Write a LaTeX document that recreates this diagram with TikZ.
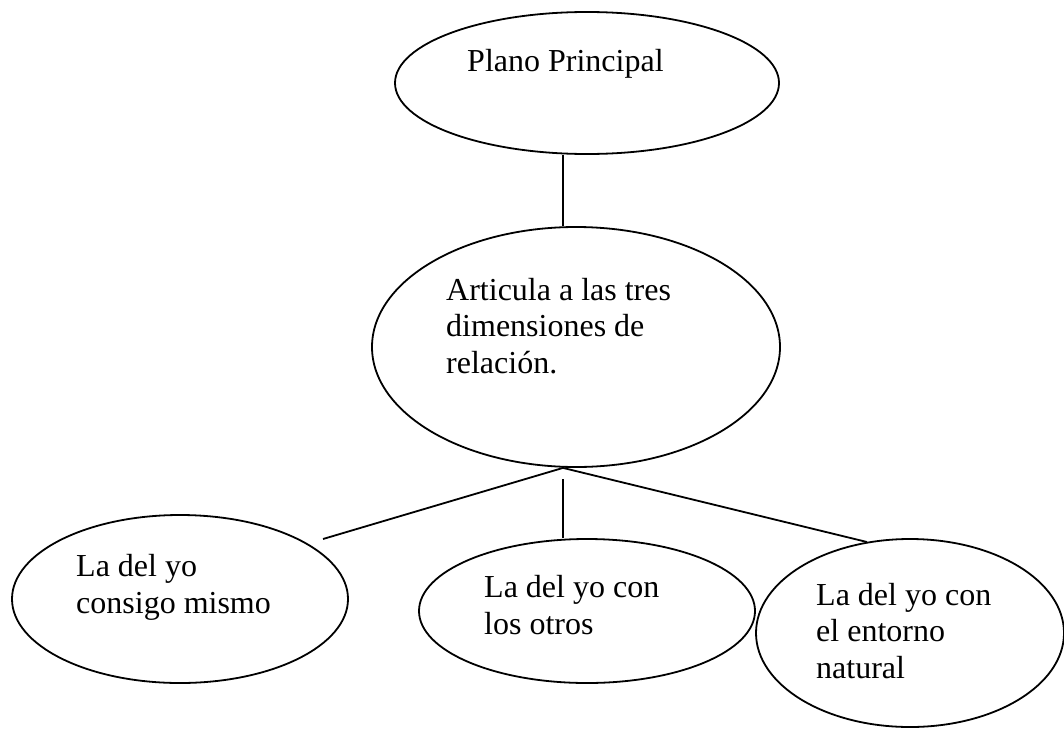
\documentclass[tikz,border=0pt]{standalone}
\usepackage{fontspec}
\setmainfont{Liberation Serif}
\usetikzlibrary{shapes.geometric,calc}
\begin{document}
\begin{tikzpicture}[x=1pt,y=-1pt,
  bubble/.style={ellipse,draw=black,line width=1.8pt,inner sep=0pt,fill=none},
  label/.style={anchor=base west,align=left,inner sep=0pt,font=\fontsize{32}{36.5}\selectfont},
  link/.style={draw=black,line width=1.8pt}]
\useasboundingbox[fill=white] (0,0) rectangle (1064,728);
% ellipses
\node[bubble,minimum width=384pt,minimum height=142pt] (e1) at (587,83) {};
\node[bubble,minimum width=408pt,minimum height=240pt] (e2) at (576,347) {};
\node[bubble,minimum width=336pt,minimum height=168pt] (e3) at (180,599) {};
\node[bubble,minimum width=336pt,minimum height=144pt] (e4) at (587,611) {};
\node[bubble,minimum width=308pt,minimum height=188pt] (e5) at (910,633) {};
% texts (base anchor = baseline of the last line)
\node[label] (t1) at (467,71) {Plano Principal};
\node[label] (t2) at (446,373) {Articula a las tres\\dimensiones de\\relación.};
\node[label] (t3) at (76,613) {La del yo\\consigo mismo};
\node[label] (t4) at (484,634) {La del yo con\\los otros};
\node[label] (t5) at (816,678) {La del yo con\\el entorno\\natural};
% connectors
\coordinate (top1) at ($(e1.south)+(-24,0)$);
\coordinate (top2) at ($(e2.north)+(-13,0)$);
\coordinate (hub) at ($(e2.south)+(-13,0)$);
\coordinate (leftend) at (323,539);
\coordinate (midstart) at (563,479);
\coordinate (midend) at ($(e4.north)+(-24,0)$);
\coordinate (rightend) at (867,542);
\draw[link] (top1) -- (top2);
\draw[link] (hub) -- (leftend);
\draw[link] (midstart) -- (midend);
\draw[link] (hub) -- (rightend);
\end{tikzpicture}
\end{document}
